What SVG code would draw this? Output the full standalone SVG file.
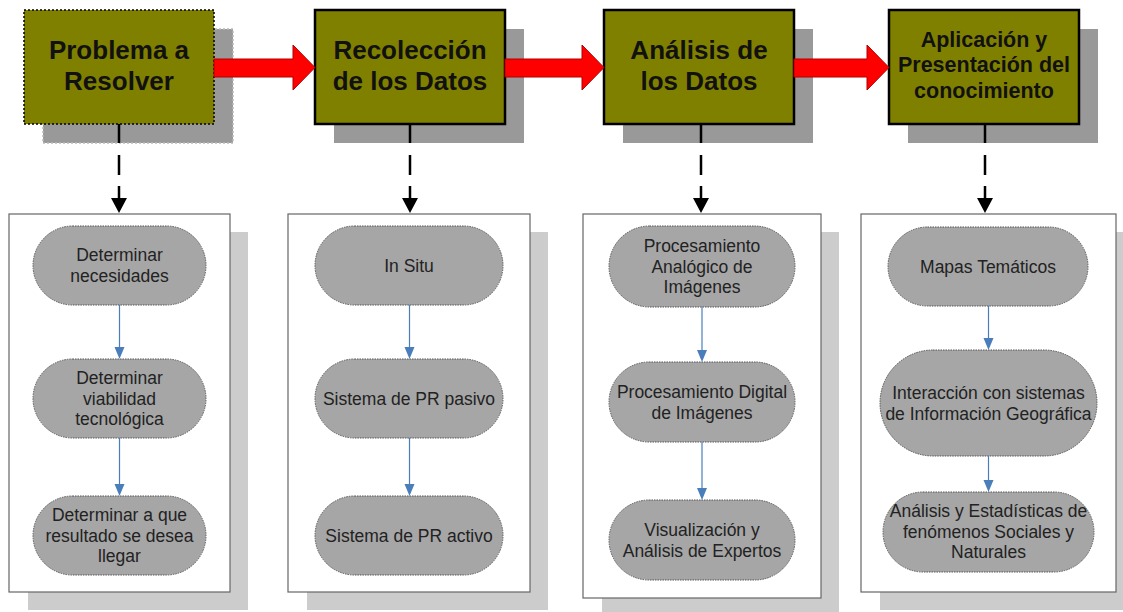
<svg xmlns="http://www.w3.org/2000/svg" width="1123" height="612" viewBox="0 0 1123 612">
<style>
  .bg{fill:#ffffff}
  .shadow{fill:#999999}
  .box{fill:#808000;stroke:#000;stroke-width:2.5}
  .box.dot{stroke-width:1.5;stroke-dasharray:2 2}
  .shadow.dot{stroke:#bbbbbb;stroke-width:1.5;stroke-dasharray:2 2}
  .ttl{font-family:"Liberation Sans",Arial,sans-serif;font-weight:bold;font-size:26px;fill:#111;text-anchor:middle}
  .ttl.sm{font-size:21.5px}
  .pshadow{fill:#cccccc}
  .panel{fill:#ffffff;stroke:#666666;stroke-width:1.2}
  .pill{fill:#a6a6a6;stroke:#555555;stroke-width:1;stroke-dasharray:1.5 1}
  .pt{font-family:"Liberation Sans",Arial,sans-serif;font-size:17.5px;fill:#222;text-anchor:middle}
  .red{fill:#ff0000;stroke:#b00000;stroke-width:1}
  .dash{stroke:#000;stroke-width:2.5;fill:none;stroke-dasharray:19 12 20 11 20}
  .blue{stroke:#4a7ebb;stroke-width:1.2;fill:none}
  .bhead{fill:#4a7ebb}
</style>
<rect class="bg" x="0" y="0" width="1123" height="612"/>

<!-- panels (behind) -->
<g id="panel1">
  <rect class="pshadow" x="28" y="232" width="220" height="378"/>
  <rect class="panel" x="9" y="214" width="221" height="378"/>
</g>
<g id="panel2">
  <rect class="pshadow" x="307" y="232" width="241" height="378"/>
  <rect class="panel" x="288" y="214" width="242" height="378"/>
</g>
<g id="panel3">
  <rect class="pshadow" x="602" y="232" width="237" height="384"/>
  <rect class="panel" x="583" y="214" width="238" height="384"/>
</g>
<g id="panel4">
  <rect class="pshadow" x="880" y="232" width="255" height="378"/>
  <rect class="panel" x="861" y="214" width="255" height="378"/>
</g>

<!-- top process boxes -->
<g id="box1">
  <rect class="shadow dot" x="43" y="29" width="190" height="114"/>
  <rect class="box dot" x="24" y="10" width="190" height="114"/>
  <text class="ttl" x="119" y="59">Problema a</text>
  <text class="ttl" x="119" y="90">Resolver</text>
</g>
<g id="box2">
  <rect class="shadow" x="334" y="29" width="190" height="114"/>
  <rect class="box" x="315" y="10" width="190" height="114"/>
  <text class="ttl" x="410" y="59">Recolección</text>
  <text class="ttl" x="410" y="90">de los Datos</text>
</g>
<g id="box3">
  <rect class="shadow" x="623" y="29" width="190" height="114"/>
  <rect class="box" x="604" y="10" width="190" height="114"/>
  <text class="ttl" x="699" y="59">Análisis de</text>
  <text class="ttl" x="699" y="90">los Datos</text>
</g>
<g id="box4">
  <rect class="shadow" x="908" y="29" width="190" height="114"/>
  <rect class="box" x="889" y="10" width="190" height="114"/>
  <text class="ttl sm" x="984" y="47">Aplicación y</text>
  <text class="ttl sm" x="984" y="72">Presentación del</text>
  <text class="ttl sm" x="984" y="98">conocimiento</text>
</g>

<!-- pills -->
<g id="p1a"><rect class="pill" x="33" y="226" width="173" height="79" rx="39.5"/>
  <text class="pt" x="119.5" y="261">Determinar</text><text class="pt" x="119.5" y="282">necesidades</text></g>
<g id="p1b"><rect class="pill" x="33" y="359" width="173" height="79" rx="39.5"/>
  <text class="pt" x="119.5" y="384">Determinar</text><text class="pt" x="119.5" y="404.5">viabilidad</text><text class="pt" x="119.5" y="425">tecnológica</text></g>
<g id="p1c"><rect class="pill" x="33" y="496" width="173" height="79" rx="39.5"/>
  <text class="pt" x="119.5" y="521">Determinar a que</text><text class="pt" x="119.5" y="541.5">resultado se desea</text><text class="pt" x="119.5" y="562">llegar</text></g>

<g id="p2a"><rect class="pill" x="315" y="226" width="188" height="79" rx="39.5"/>
  <text class="pt" x="409" y="271.5">In Situ</text></g>
<g id="p2b"><rect class="pill" x="315" y="359" width="188" height="79" rx="39.5"/>
  <text class="pt" x="409" y="404.5">Sistema de PR pasivo</text></g>
<g id="p2c"><rect class="pill" x="315" y="496" width="188" height="79" rx="39.5"/>
  <text class="pt" x="409" y="541.5">Sistema de PR activo</text></g>

<g id="p3a"><rect class="pill" x="609" y="226" width="186" height="81" rx="40.5"/>
  <text class="pt" x="702" y="252">Procesamiento</text><text class="pt" x="702" y="272.5">Analógico de</text><text class="pt" x="702" y="293">Imágenes</text></g>
<g id="p3b"><rect class="pill" x="609" y="362" width="186" height="80" rx="40"/>
  <text class="pt" x="702" y="398">Procesamiento Digital</text><text class="pt" x="702" y="418.5">de Imágenes</text></g>
<g id="p3c"><rect class="pill" x="609" y="500" width="186" height="80" rx="40"/>
  <text class="pt" x="702" y="536">Visualización y</text><text class="pt" x="702" y="556.5">Análisis de Expertos</text></g>

<g id="p4a"><rect class="pill" x="888" y="227" width="200" height="79" rx="39.5"/>
  <text class="pt" x="988" y="272.5">Mapas Temáticos</text></g>
<g id="p4b"><rect class="pill" x="880" y="350" width="217" height="106" rx="53"/>
  <text class="pt" x="988.5" y="399">Interacción con sistemas</text><text class="pt" x="988.5" y="419.5">de Información Geográfica</text></g>
<g id="p4c"><rect class="pill" x="883" y="492" width="211" height="80" rx="40"/>
  <text class="pt" x="988.5" y="517">Análisis y Estadísticas de</text><text class="pt" x="988.5" y="537.5">fenómenos Sociales y</text><text class="pt" x="988.5" y="558">Naturales</text></g>

<!-- connectors -->
<g id="connectors">
  <!-- red block arrows -->
  <polygon class="red" points="214,59 293,59 293,45 315,67.5 293,90 293,77 214,77"/>
  <polygon class="red" points="505,59 582,59 582,45 604,67.5 582,90 582,77 505,77"/>
  <polygon class="red" points="794,59 867,59 867,45 889,67.5 867,90 867,77 794,77"/>
  <!-- dashed black -->
  <line class="dash" x1="119" y1="124" x2="119" y2="199"/>
  <polygon points="111,198 127,198 119,213"/>
  <line class="dash" x1="410" y1="124" x2="410" y2="199"/>
  <polygon points="402,198 418,198 410,213"/>
  <line class="dash" x1="701" y1="124" x2="701" y2="199"/>
  <polygon points="693,198 709,198 701,213"/>
  <line class="dash" x1="985" y1="124" x2="985" y2="199"/>
  <polygon points="977,198 993,198 985,213"/>
  <!-- blue arrows -->
  <line class="blue" x1="119.5" y1="305" x2="119.5" y2="348"/><polygon class="bhead" points="114.5,347 124.5,347 119.5,359"/>
  <line class="blue" x1="119.5" y1="438" x2="119.5" y2="485"/><polygon class="bhead" points="114.5,484 124.5,484 119.5,496"/>
  <line class="blue" x1="409.5" y1="305" x2="409.5" y2="348"/><polygon class="bhead" points="404.5,347 414.5,347 409.5,359"/>
  <line class="blue" x1="409.5" y1="438" x2="409.5" y2="485"/><polygon class="bhead" points="404.5,484 414.5,484 409.5,496"/>
  <line class="blue" x1="702" y1="307" x2="702" y2="351"/><polygon class="bhead" points="697,350 707,350 702,362"/>
  <line class="blue" x1="702" y1="442" x2="702" y2="489"/><polygon class="bhead" points="697,488 707,488 702,500"/>
  <line class="blue" x1="988.5" y1="306" x2="988.5" y2="339"/><polygon class="bhead" points="983.5,338 993.5,338 988.5,350"/>
  <line class="blue" x1="988.5" y1="456" x2="988.5" y2="481"/><polygon class="bhead" points="983.5,480 993.5,480 988.5,492"/>
</g>
</svg>
